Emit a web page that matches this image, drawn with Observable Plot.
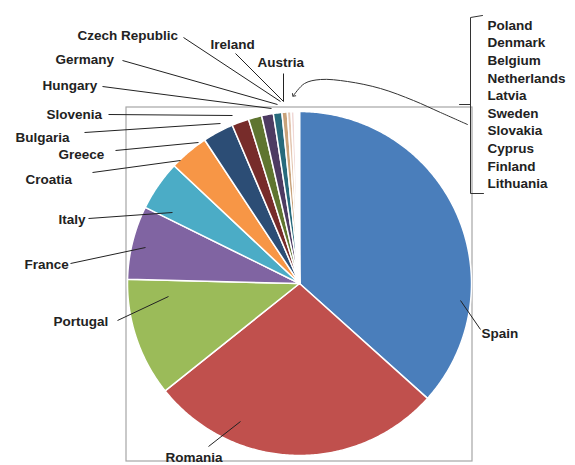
<!DOCTYPE html>
<html><head><meta charset="utf-8">
<script src="https://cdn.jsdelivr.net/npm/d3@7"></script>
<script src="https://cdn.jsdelivr.net/npm/@observablehq/plot@0.6"></script>
<style>body{margin:0;background:#fff;overflow:hidden}</style>
</head><body><div id="chart"></div>
<script>
// ---- data ----
const countries = ["Spain","Romania","Portugal","France","Italy","Croatia","Greece","Bulgaria","Slovenia","Hungary","Germany","Czech Republic","Ireland","Austria","Poland","Denmark","Belgium","Netherlands","Latvia","Sweden","Slovakia","Cyprus","Finland","Lithuania"];
const values = [36.6,27.6,11.1,6.9,4.7,3.7,2.9,1.6,1.25,1.1,0.8,0.5,0.35,0.3,0.1,0.08,0.07,0.06,0.05,0.04,0.03,0.02,0.02,0.01];
const colors = ["#4A7EBB","#C0504D","#9BBB59","#8064A2","#4BACC6","#F79646","#2C4D75","#772C2A","#5F7530","#4D3B62","#276A7C","#C8A27A","#E3C6B0","#F0D8D6","#EEF3E2","#ECE7F2","#E5F2F6","#FDEBDC","#E6ECF5","#F2DEDE","#EAF1DD","#E6E0EC","#DBEEF3","#FDE9D9"];
// grouped small countries (listed at right with a bracket)
const groupedNames = countries.slice(14);

// ---- layout (pixels) ----
const W = 575, H = 465;
const cx = 299, cy = 283, R = 172;
const frame = {x1:126, y1:107, x2:472, y2:461};
// label anchor positions (left edge, vertical middle)
const labelPos = {
  "Czech Republic":[77,35], "Ireland":[210,44], "Austria":[257,62], "Germany":[55,59],
  "Hungary":[42,85], "Slovenia":[46,114], "Bulgaria":[15,137], "Greece":[58,154],
  "Croatia":[25,179], "Italy":[58,219], "France":[24,264], "Portugal":[53,321],
  "Romania":[165,457], "Spain":[481,333]
};
// leader lines: from label side to slice
const leaders = {
  "Czech Republic":[183,37,280,101], "Ireland":[235,53,283,101], "Austria":[283,73,283,101],
  "Germany":[122,60,277,104], "Hungary":[102,86,271,108], "Slovenia":[108,114,232,115],
  "Bulgaria":[84,132,220,123], "Greece":[115,150,198,142], "Croatia":[92,172,180,160],
  "Italy":[88,218,172,212], "France":[70,263,145,247], "Portugal":[117,320,168,296],
  "Romania":[208,446,240,421], "Spain":[480,329,460,300]
};
const listX = 487, listY0 = 25, listDy = 17.6;
const bracket = [[482,15],[470,17],[470,193],[483,193]];
const bracketMid = [[459,104],[470,104]];
const curve = [[467,124],[440,112],[413,100],[380,88],[347,81],[320,79],[304,83],[293,95]];

// ---- pie geometry from data ----
const arcs = d3.pie().sort(null).value(d => d)(values);
const poly = [];
arcs.forEach((a, i) => {
  const name = countries[i];
  poly.push({name, x: cx, y: cy});
  const n = Math.max(2, Math.ceil((a.endAngle - a.startAngle) / 0.01));
  for (let k = 0; k <= n; k++) {
    const t = a.startAngle + (a.endAngle - a.startAngle) * k / n;
    poly.push({name, x: cx + R * Math.sin(t), y: cy - R * Math.cos(t)});
  }
  poly.push({name, x: cx, y: cy});
});

const labelData = Object.keys(labelPos).map(k => ({text:k, x:labelPos[k][0], y:labelPos[k][1]}));
const leaderData = Object.keys(leaders).map(k => ({x1:leaders[k][0], y1:leaders[k][1], x2:leaders[k][2], y2:leaders[k][3]}));
const listData = groupedNames.map((t, i) => ({text:t, x:listX, y:listY0 + i*listDy}));

const font = "'Liberation Sans', Arial, sans-serif";
const chart = Plot.plot({
  width: W, height: H, margin: 0,
  x: {domain:[0,W], range:[0,W], axis:null},
  y: {domain:[0,H], range:[0,H], axis:null},
  color: {domain: countries, range: colors},
  style: {fontFamily: font, background: "#fff"},
  marks: [
    Plot.rect([frame], {x1:"x1", x2:"x2", y1:"y1", y2:"y2", fill:"none", stroke:"#a6a6a6", strokeWidth:1.2}),
    Plot.line(poly, {x:"x", y:"y", z:"name", fill:"name", stroke:"white", strokeWidth:1.5, strokeLinejoin:"round", curve:"linear"}),
    Plot.link(leaderData, {x1:"x1", y1:"y1", x2:"x2", y2:"y2", stroke:"#222", strokeWidth:1}),
    Plot.line(bracket, {x:d=>d[0], y:d=>d[1], stroke:"#333", strokeWidth:1}),
    Plot.line(bracketMid, {x:d=>d[0], y:d=>d[1], stroke:"#333", strokeWidth:1}),
    Plot.line(curve, {x:d=>d[0], y:d=>d[1], stroke:"#333", strokeWidth:1, curve:"catmull-rom", markerEnd:"arrow"}),
    Plot.text(labelData, {x:"x", y:"y", text:"text", textAnchor:"start", fontSize:13.5, fontWeight:"bold", fill:"#222", fontFamily:font}),
    Plot.text(listData, {x:"x", y:"y", text:"text", textAnchor:"start", fontSize:13.5, fontWeight:"bold", fill:"#222", fontFamily:font})
  ]
});
document.getElementById("chart").appendChild(chart);
</script>
</body></html>
